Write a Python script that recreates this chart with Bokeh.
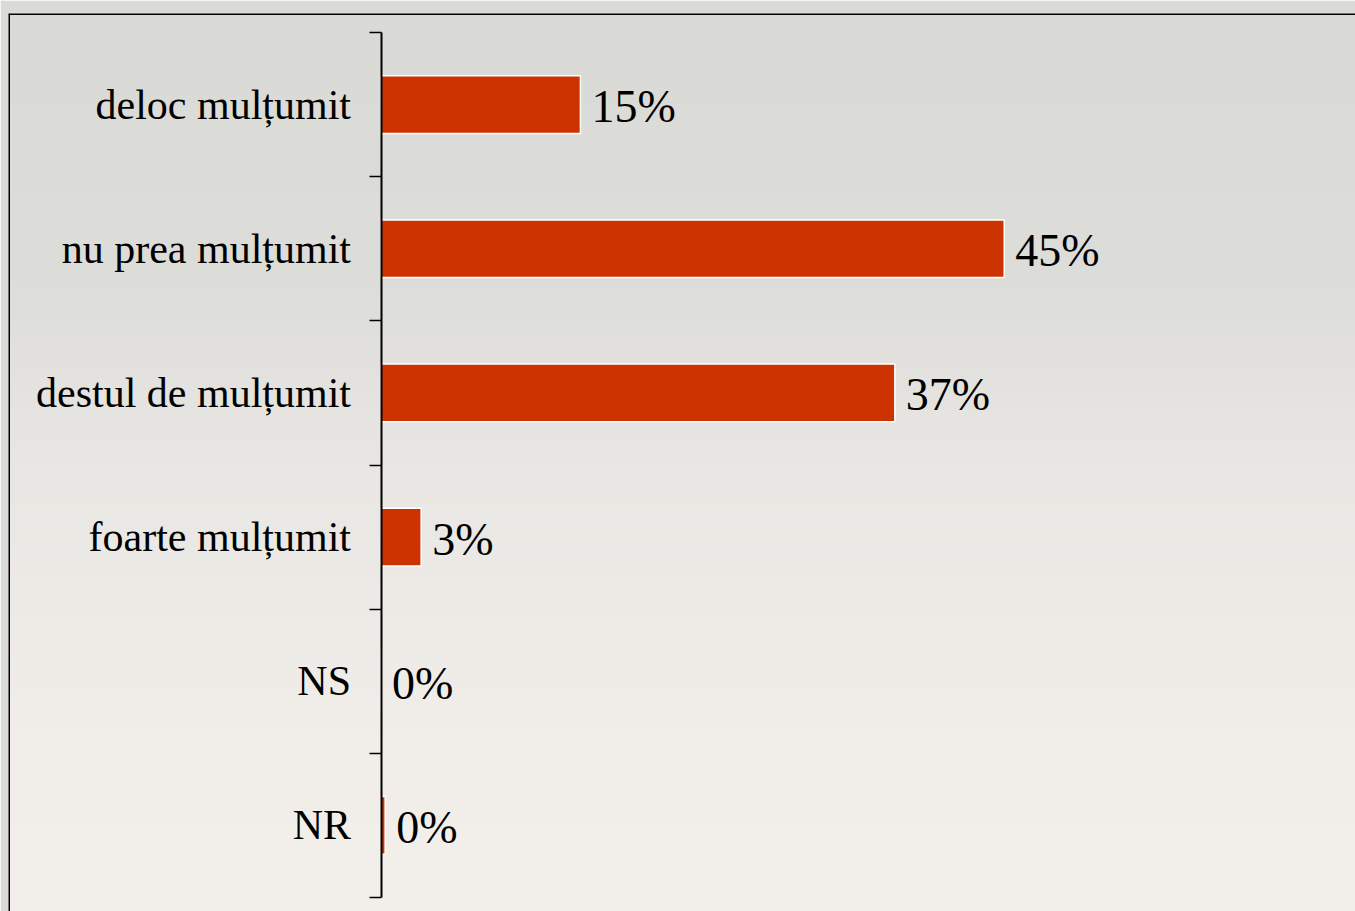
import numpy as np
from bokeh.plotting import figure
from bokeh.models import Range1d, LinearAxis, FixedTicker, Span, ColumnDataSource
from bokeh.core.properties import value
from bokeh.embed import file_html
from bokeh.resources import INLINE

# ---- data ----
categories = ["deloc mulțumit", "nu prea mulțumit", "destul de mulțumit",
              "foarte mulțumit", "NS", "NR"]
values = [14.4, 45.0, 37.1, 2.9, 0.0, 0.3]
labels = ["15%", "45%", "37%", "3%", "0%", "0%"]

# ---- layout constants ----
W, H = 1355, 911
LEFT, TOP = 8, 13
frame_w = W - LEFT
frame_h = H - TOP
px_x = 13.85                      # pixels per percent
axis_px = 372.5                   # axis position inside the frame
x_start = -axis_px / px_x
x_end = (frame_w - axis_px) / px_x
unit_y = 865 / 6
y_top = -19 / unit_y
y_bot = 6 + (frame_h - 19 - 865) / unit_y

ypos = [i + 0.5 for i in range(len(categories))]
src = ColumnDataSource(dict(cat=categories, y=ypos, v=values, lab=labels))

p = figure(width=W, height=H, output_backend="svg", toolbar_location=None,
           x_range=Range1d(x_start, x_end), y_range=Range1d(y_bot, y_top),
           x_axis_location=None, y_axis_location=None,
           min_border_left=LEFT, min_border_right=0, min_border_bottom=0,
           min_border_top=TOP)
p.outline_line_color = None
p.grid.visible = False
p.border_fill_color = "#dadbd7"
p.background_fill_color = "#e8e6e2"

# background gradient (decoration)
stops = np.array([[218, 219, 215], [221, 221, 218], [233, 231, 227], [241, 238, 234], [243, 240, 236]], float)
pos = np.array([0.0, 0.3, 0.5, 0.8, 1.0])
n = 200
t = np.linspace(0, 1, n)
rgb = np.stack([np.interp(t, pos, stops[:, k]) for k in range(3)], axis=1).astype(np.uint32)
img = (255 << 24) | (rgb[:, 2] << 16) | (rgb[:, 1] << 8) | rgb[:, 0]
img = img.reshape(n, 1).astype(np.uint32)
p.image_rgba(image=[img], x=x_start, y=y_top, dw=x_end - x_start, dh=y_bot - y_top)

p.hbar(y="y", left=0, right="v", height=0.4, source=src,
       fill_color="#cc3300", line_color="white", line_width=1.5)

p.text(x="v", y="y", text="lab", source=src, x_offset=11, y_offset=2,
       text_baseline="middle", text_align="left",
       text_font=value("Liberation Serif"), text_font_size="46px",
       text_color="black")

ax = LinearAxis(ticker=FixedTicker(ticks=ypos, minor_ticks=list(range(len(categories) + 1))),
                fixed_location=0, bounds=(0, len(categories)))
ax.major_label_overrides = {y: c for y, c in zip(ypos, categories)}
ax.major_tick_line_color = None
ax.major_tick_out = 0
ax.major_tick_in = 0
ax.minor_tick_out = 12
ax.minor_tick_in = 0
ax.minor_tick_line_color = "black"
ax.minor_tick_line_width = 1.5
ax.axis_line_color = "black"
ax.axis_line_width = 2
ax.major_label_standoff = 18
ax.major_label_text_font = "Liberation Serif"
ax.major_label_text_font_size = "42px"
ax.major_label_text_color = "black"
p.add_layout(ax, "left")

# chart-area border (left and top edges)
p.add_layout(Span(location=x_start, dimension="height", line_color="black", line_width=3))
p.add_layout(Span(location=y_top, dimension="width", line_color="black", line_width=3))

open("out.html", "w").write(file_html(p, INLINE))
